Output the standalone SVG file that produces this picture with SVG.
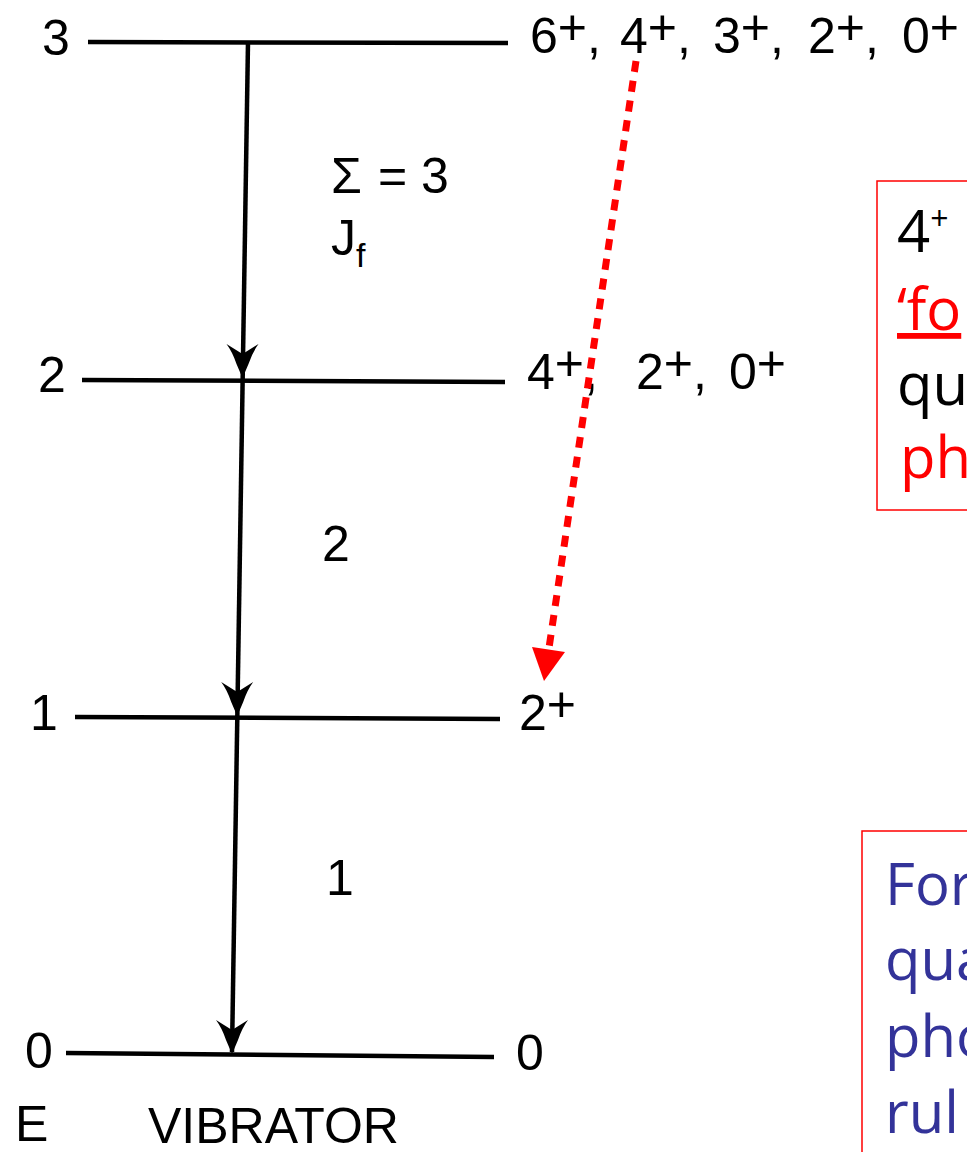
<svg xmlns="http://www.w3.org/2000/svg" width="967" height="1152" viewBox="0 0 967 1152">
<style>
.lvl{stroke:#000;stroke-width:4.5;fill:none}
.t{font-family:"Liberation Sans",Arial,sans-serif;font-size:50px;fill:#000}
.tb{font-family:"Open Sans","DejaVu Sans",sans-serif;font-size:58px}
.box{fill:none;stroke:#ff0000;stroke-width:1.5}
</style>
<defs>
<path id="ah" d="M0,0 L-6,-14 Q-10,-26 -16,-34 L0,-24 L16,-34 Q10,-26 6,-14 Z" fill="#000"/>
</defs>
<rect width="967" height="1152" fill="#fff"/>
<g id="level3">
<line class="lvl" x1="88" y1="42" x2="508" y2="43"/>
<text class="t" x="42" y="55">3</text>
<text class="t" y="53"><tspan x="530">6</tspan><tspan dy="-9">+</tspan><tspan dy="9">,</tspan><tspan x="620">4</tspan><tspan dy="-9">+</tspan><tspan dy="9">,</tspan><tspan x="713">3</tspan><tspan dy="-9">+</tspan><tspan dy="9">,</tspan><tspan x="808">2</tspan><tspan dy="-9">+</tspan><tspan dy="9">,</tspan><tspan x="902">0</tspan><tspan dy="-9">+</tspan></text>
</g>
<g id="level2">
<line class="lvl" x1="82" y1="380" x2="505" y2="382"/>
<text class="t" x="38" y="392">2</text>
<text class="t" y="389"><tspan x="527">4</tspan><tspan dy="-9">+</tspan><tspan dy="9">,</tspan><tspan x="636">2</tspan><tspan dy="-9">+</tspan><tspan dy="9">,</tspan><tspan x="729">0</tspan><tspan dy="-9">+</tspan></text>
</g>
<g id="level1">
<line class="lvl" x1="75" y1="717" x2="500" y2="719"/>
<text class="t" x="30" y="730">1</text>
<text class="t" y="730"><tspan x="519">2</tspan><tspan dy="-9">+</tspan></text>
</g>
<g id="level0">
<line class="lvl" x1="66" y1="1053" x2="494" y2="1057"/>
<text class="t" x="25" y="1068">0</text>
<text class="t" x="516" y="1070">0</text>
</g>
<g id="axis-labels">
<text class="t" x="15" y="1141">E</text>
<text class="t" x="148" y="1143" font-size="52">VIBRATOR</text>
</g>
<g id="transition-labels">
<text class="t" x="331" y="193">Σ</text>
<text class="t" x="378" y="193">= 3</text>
<text class="t" x="331" y="255">J<tspan font-size="34" dy="12">f</tspan></text>
<text class="t" x="322" y="561">2</text>
<text class="t" x="326" y="895">1</text>
</g>
<g id="connectors">
<line x1="248" y1="42" x2="232" y2="1052" stroke="#000" stroke-width="4.5"/>
<use href="#ah" x="242.5" y="378"/>
<use href="#ah" x="237.2" y="716"/>
<use href="#ah" x="232" y="1054"/>
<line x1="636" y1="61" x2="549" y2="648" stroke="#ff0000" stroke-width="7" stroke-dasharray="11 9"/>
<polygon points="532,647 565,652 544,681" fill="#ff0000"/>
</g>
<g id="note-top">
<rect class="box" x="877" y="181" width="120" height="329"/>
<text class="tb" x="897" y="252" fill="#000">4<tspan font-size="32" dy="-22">+</tspan></text>
<text class="tb" x="897" y="330" fill="#ff0000" text-decoration="underline">‘fo</text>
<text class="tb" x="897" y="405" fill="#000">qua</text>
<text class="tb" x="900" y="478" fill="#ff0000">ph</text>
</g>
<g id="note-bottom">
<rect class="box" x="862" y="831" width="140" height="360"/>
<text class="tb" x="885" y="905" fill="#333399" font-size="64">For</text>
<text class="tb" x="885" y="980" fill="#333399" font-size="64">qua</text>
<text class="tb" x="885" y="1057" fill="#333399" font-size="64">pho</text>
<text class="tb" x="885" y="1133" fill="#333399" font-size="64">rul</text>
</g>
</svg>
